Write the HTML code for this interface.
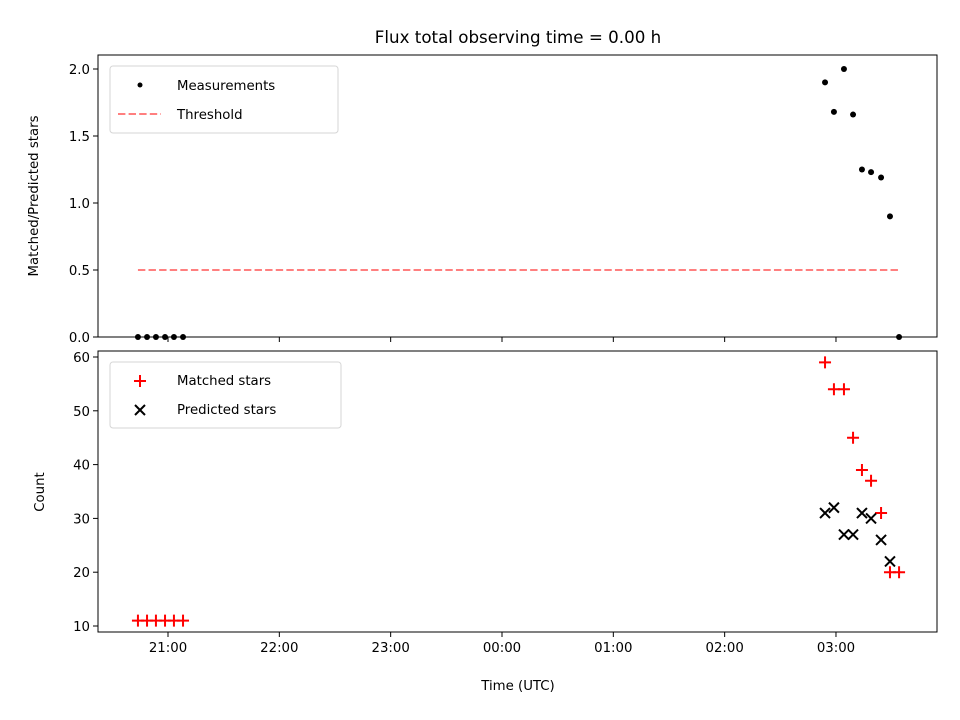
<!DOCTYPE html>
<html><head><meta charset="utf-8"><style>
html,body{margin:0;padding:0;background:#fff;}
svg{display:block;font-family:"DejaVu Sans","Liberation Sans",sans-serif;}
</style></head><body>
<svg id="chart" width="960" height="720" viewBox="0 0 960 720">
<rect width="960" height="720" fill="#fff"/>
<text x="518" y="43" font-size="16.7" text-anchor="middle">Flux total observing time = 0.00 h</text>
<g id="topg"></g><g id="botg"></g>
</svg>
<script>
// minutes relative to 21:00 (UTC, continuing past midnight)
const ratioTimes = [-16.2,-11.3,-6.5,-1.6,3.2,8.1,354.1,358.9,364.3,369.2,374.0,378.9,384.3,389.1,394.0];
const ratioValues = [0,0,0,0,0,0,1.90,1.68,2.00,1.66,1.25,1.23,1.19,0.90,0];
const matchedTimes = [-16.2,-11.3,-6.5,-1.6,3.2,8.1,354.1,358.9,364.3,369.2,374.0,378.9,384.3,389.1,394.0];
const matchedValues = [11,11,11,11,11,11,59,54,54,45,39,37,31,20,20];
const predictedTimes = [354.1,358.9,364.3,369.2,374.0,378.9,384.3,389.1];
const predictedValues = [31,32,27,27,31,30,26,22];
const thresholdValue = 0.5;
const thresholdRange = [-16.2,394.0];
const xTickMinutes = [0,60,120,180,240,300,360];
const xTickLabels = ["21:00","22:00","23:00","00:00","01:00","02:00","03:00"];
const topTicks = [0,0.5,1.0,1.5,2.0];
const topTickLabels = ["0.0","0.5","1.0","1.5","2.0"];
const botTicks = [10,20,30,40,50,60];

const NS="http://www.w3.org/2000/svg";
const L=98,R=937;
const xs=m=>168+m*111.33/60;
const yTop=v=>337-v*134;
const yBot=v=>626-(v-10)*5.38;
function mk(p,tag,a){const e=document.createElementNS(NS,tag);for(const k in a)e.setAttribute(k,a[k]);p.appendChild(e);return e;}
const gTop=document.getElementById('topg'),gBot=document.getElementById('botg');

function axes(g,y0,y1,ticks,labels,ys,name,labelX){
  const fr=mk(g,'rect',{x:L,y:y0,width:R-L,height:y1-y0,fill:'none',stroke:'#000','stroke-width':1});
  
  
  xTickMinutes.forEach((m,i)=>{
    const t=mk(g,'line',{x1:xs(m),x2:xs(m),y1:y1,y2:y1+5,stroke:'#000'});
    
    
    if(labelX){const tx=mk(g,'text',{x:xs(m),y:y1+20,'font-size':13.3,'text-anchor':'middle'});tx.textContent=xTickLabels[i];
      
      }
  });
  ticks.forEach((v,i)=>{
    const y=ys(v);
    const t=mk(g,'line',{x1:L-5,x2:L,y1:y,y2:y,stroke:'#000'});
    
    
    const tx=mk(g,'text',{x:L-8,y:y+5,'font-size':13.3,'text-anchor':'end'});tx.textContent=labels[i];
    
    
  });
}
axes(gTop,55,337,topTicks,topTickLabels,yTop,'top-axes',false);
axes(gBot,351,632,botTicks,botTicks.map(String),yBot,'bottom-axes',true);

let t=mk(gTop,'text',{transform:'translate(38,196) rotate(-90)','font-size':13.3,'text-anchor':'middle'});t.textContent='Matched/Predicted stars';

t=mk(gBot,'text',{transform:'translate(44,492) rotate(-90)','font-size':13.3,'text-anchor':'middle'});t.textContent='Count';

t=mk(gBot,'text',{x:518,y:690,'font-size':13.3,'text-anchor':'middle'});t.textContent='Time (UTC)';


const th=mk(gTop,'line',{x1:xs(thresholdRange[0]),x2:xs(thresholdRange[1]),y1:yTop(thresholdValue),y2:yTop(thresholdValue),stroke:'#ff7f7f','stroke-width':2,'stroke-dasharray':'7.4,3.2'});

ratioTimes.forEach((m,i)=>{
  const c=mk(gTop,'circle',{cx:xs(m),cy:yTop(ratioValues[i]),r:3,fill:'#000'});
  
  
});
function plus(g,x,y){return mk(g,'path',{d:`M${x-6} ${y}H${x+6}M${x} ${y-6}V${y+6}`,stroke:'#f00','stroke-width':2,fill:'none'});}
function cross(g,x,y){return mk(g,'path',{d:`M${x-5} ${y-5}L${x+5} ${y+5}M${x-5} ${y+5}L${x+5} ${y-5}`,stroke:'#000','stroke-width':2,fill:'none'});}
matchedTimes.forEach((m,i)=>{const p=plus(gBot,xs(m),yBot(matchedValues[i]));
  
  });
predictedTimes.forEach((m,i)=>{const p=cross(gBot,xs(m),yBot(predictedValues[i]));
  
  });

let lg=mk(gTop,'rect',{x:110,y:66,width:228,height:67,rx:3,fill:'#fff',stroke:'#d6d6d6'});

mk(gTop,'circle',{cx:140,cy:85,r:2.5,fill:'#000'});
t=mk(gTop,'text',{x:177,y:90,'font-size':13.3});t.textContent='Measurements';

mk(gTop,'line',{x1:118,x2:161,y1:114,y2:114,stroke:'#ff7f7f','stroke-width':2,'stroke-dasharray':'7.4,3.2'});
t=mk(gTop,'text',{x:177,y:119,'font-size':13.3});t.textContent='Threshold';


lg=mk(gBot,'rect',{x:110,y:362,width:231,height:66,rx:3,fill:'#fff',stroke:'#d6d6d6'});

plus(gBot,140,381);
t=mk(gBot,'text',{x:177,y:385,'font-size':13.3});t.textContent='Matched stars';

cross(gBot,140,410);
t=mk(gBot,'text',{x:177,y:414,'font-size':13.3});t.textContent='Predicted stars';

</script>
</body></html>
